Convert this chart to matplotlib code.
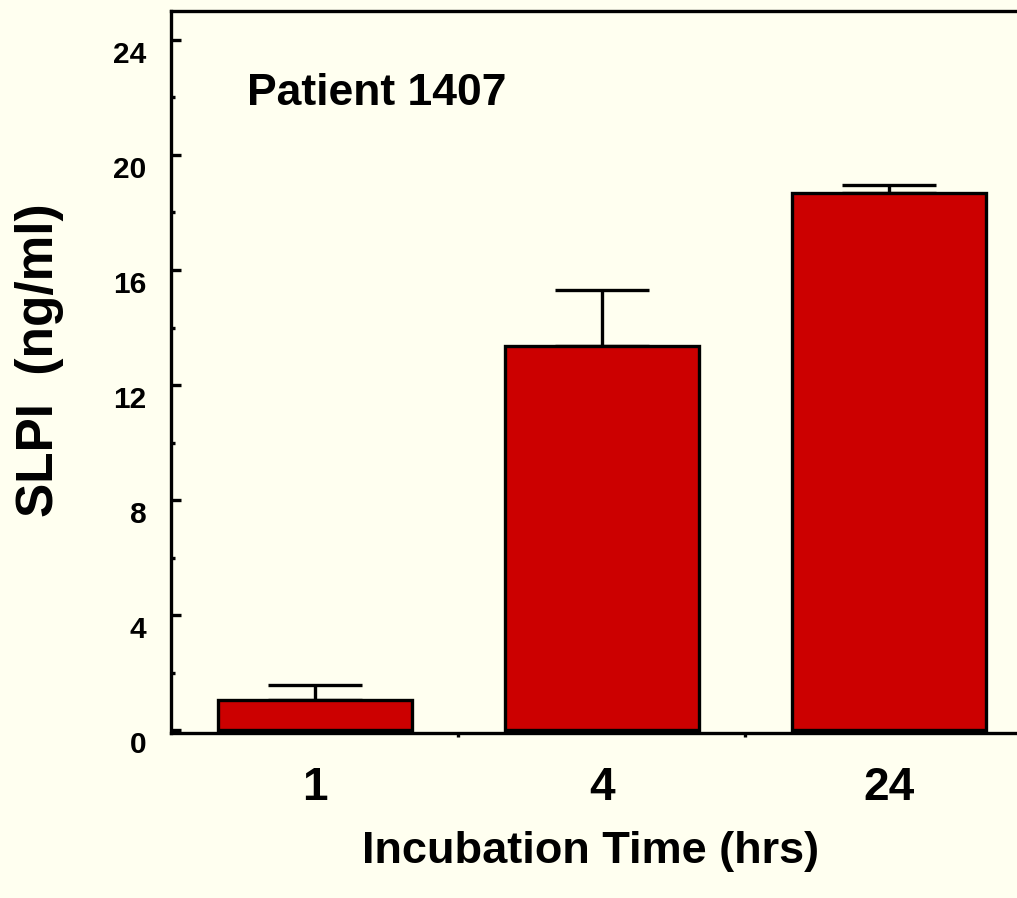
import numpy as np
import matplotlib
matplotlib.use('Agg')
import matplotlib.pyplot as plt
from matplotlib.transforms import ScaledTranslation

# data
times = ['1', '4', '24']
slpi = [1.06, 13.35, 18.66]
slpi_err = [0.52, 1.94, 0.31]

bg = '#FFFFF0'
bar_color = '#CC0000'

plt.rcParams['font.family'] = ['Liberation Sans', 'DejaVu Sans']
plt.rcParams['font.weight'] = 'bold'

fig = plt.figure(figsize=(10.17, 8.98), dpi=100, facecolor=bg)
ax = fig.add_axes([0.1686, 0.1837, 0.8466, 0.804])
ax.set_facecolor(bg)

x = np.arange(len(times))
ax.bar(x, slpi, width=0.676, color=bar_color, edgecolor='black', linewidth=2.4, zorder=3)
ax.errorbar(x, slpi, yerr=[np.zeros(len(slpi)), slpi_err], fmt='none', ecolor='black',
            elinewidth=2.4, capsize=33.5, capthick=2.4, zorder=2)

ax.set_xlim(-0.5, 2.5)
ax.set_ylim(-0.09, 25.0)

ax.spines['right'].set_visible(False)
for s in ['left', 'top', 'bottom']:
    ax.spines[s].set_linewidth(2.4)

ax.set_yticks(np.arange(0, 25, 4))
ax.set_yticks(np.arange(2, 24, 4), minor=True)
ax.tick_params(axis='y', which='major', direction='in', length=7.5, width=2.4, pad=18, labelsize=21.5)
ax.tick_params(axis='y', which='minor', direction='in', length=3, width=2.4)
offset = ScaledTranslation(0, -0.12, fig.dpi_scale_trans)
for lab in ax.get_yticklabels():
    lab.set_transform(lab.get_transform() + offset)
    lab.set_fontweight('bold')

ax.set_xticks(x)
ax.set_xticklabels(times)
ax.set_xticks([0.5, 1.5], minor=True)
ax.tick_params(axis='x', which='major', length=0, pad=24, labelsize=33)
ax.tick_params(axis='x', which='minor', direction='out', length=3, width=2.4)
for lab in ax.get_xticklabels():
    lab.set_fontweight('bold')

ax.text(0.239, 0.886, 'Patient 1407', transform=ax.transAxes, fontsize=32,
        fontweight='bold', ha='center', va='center')

fig.text(591 / 1017, 1 - 851 / 898, 'Incubation Time (hrs)', fontsize=32.5,
         fontweight='bold', ha='center', va='center')
fig.text(40 / 1017, 1 - 360 / 898, 'SLPI  (ng/ml)', fontsize=37, fontweight='bold',
         ha='center', va='center', rotation=90)

fig.savefig('out.png', dpi=100, facecolor=bg)
